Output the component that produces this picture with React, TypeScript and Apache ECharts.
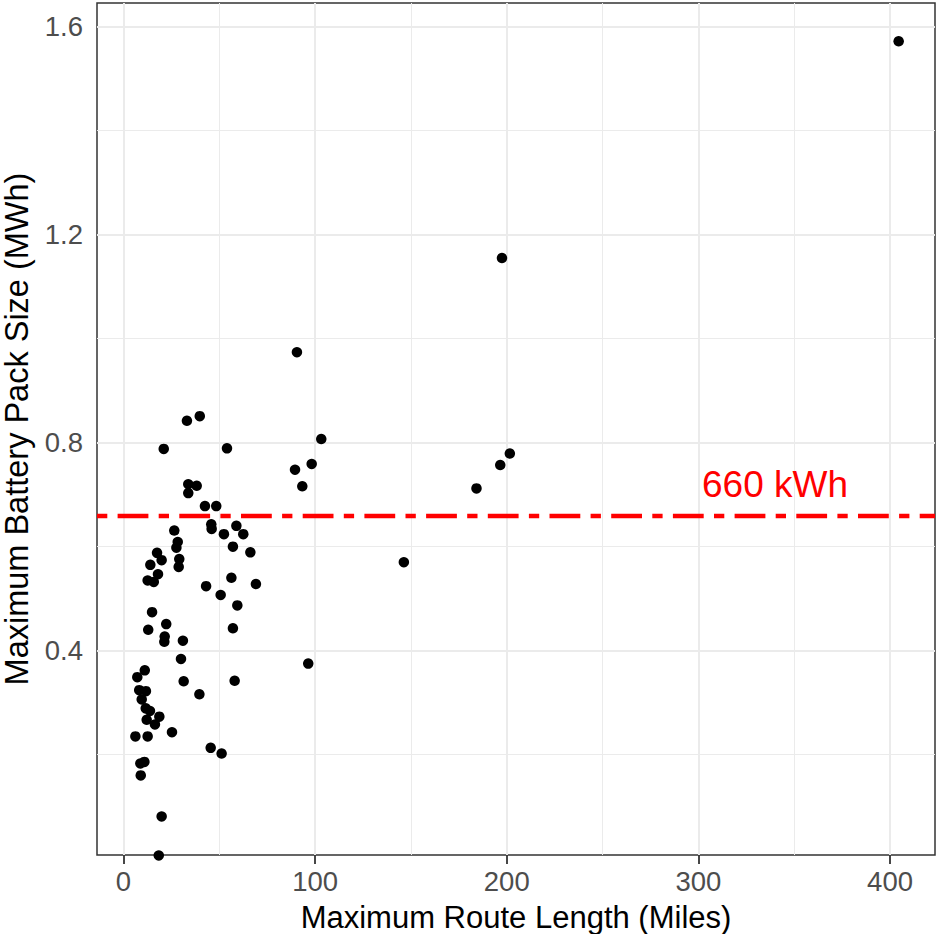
import React, { useEffect, useRef } from "react";
import * as echarts from "echarts";

// Data
const routeMiles = [
  33.1, 39.8, 21.0, 54.0, 33.8, 38.2, 33.8, 42.5, 48.4, 26.5,
  45.8, 46.0, 58.9, 52.4, 62.5, 28.3, 27.6, 57.1, 66.2, 17.5,
  19.9, 29.1, 14.0, 28.8, 18.0, 12.6, 15.8, 56.3, 43.1, 69.1,
  50.7, 59.4, 14.9, 22.3, 12.9, 57.1, 21.5, 21.3, 31.0, 30.0,
  11.1, 7.2, 31.4, 58.0, 39.6, 8.2, 11.7, 9.5, 11.6, 13.8,
  18.7, 12.1, 16.4, 6.2, 12.6, 25.3, 45.5, 51.2, 10.9, 8.8,
  9.0, 19.9, 18.4, 103.2, 89.5, 98.2, 93.3, 96.4, 146.3, 184.2,
  196.6, 201.6, 404.5, 90.5, 197.5,
];
const packMWh = [
  0.842, 0.851, 0.788, 0.789, 0.72, 0.717, 0.703, 0.678, 0.678, 0.631,
  0.643, 0.634, 0.64, 0.624, 0.624, 0.609, 0.598, 0.6, 0.589, 0.588,
  0.574, 0.576, 0.565, 0.561, 0.547, 0.535, 0.532, 0.54, 0.524, 0.528,
  0.507, 0.487, 0.474, 0.451, 0.44, 0.443, 0.427, 0.417, 0.419, 0.384,
  0.362, 0.349, 0.341, 0.342, 0.316, 0.324, 0.322, 0.306, 0.289, 0.284,
  0.273, 0.267, 0.258, 0.235, 0.235, 0.243, 0.213, 0.202, 0.186, 0.183,
  0.16, 0.081, 0.006, 0.807, 0.748, 0.759, 0.716, 0.375, 0.57, 0.712,
  0.757, 0.779, 1.572, 0.974, 1.155,
];

const xTicks = [0, 100, 200, 300, 400];
const xMinor = [50, 150, 250, 350];
const yTicks = [0.4, 0.8, 1.2, 1.6];
const yMinor = [0.2, 0.6, 1.0, 1.4];
const xRange = [-13.83, 423.47];
const yRange = [0.0069, 1.6456];

const thresholdMWh = 0.66;
const thresholdLabel = "660 kWh";
const thresholdLabelAt = [340, 0.72];

const xTitle = "Maximum Route Length (Miles)";
const yTitle = "Maximum Battery Pack Size (MWh)";

const FONT = "'Liberation Sans', Arial, Helvetica, sans-serif";

export default function App() {
  const ref = useRef<HTMLDivElement>(null);

  useEffect(() => {
    document.body.style.margin = "0";
    if (!ref.current) return;
    const chart = echarts.init(ref.current, null, { renderer: "svg" });

    const gridLines = [
      ...xTicks.map((v) => ({ xAxis: v, lineStyle: { width: 2 } })),
      ...xMinor.map((v) => ({ xAxis: v, lineStyle: { width: 1 } })),
      ...yTicks.map((v) => ({ yAxis: v, lineStyle: { width: 2 } })),
      ...yMinor.map((v) => ({ yAxis: v, lineStyle: { width: 1 } })),
    ];

    const points = routeMiles.map((x, i) => [x, packMWh[i]]);

    chart.setOption({
      animation: false,
      backgroundColor: "#ffffff",
      grid: {
        left: 97,
        right: 3,
        top: 3,
        bottom: 79,
        containLabel: false,
        outerBoundsMode: "none",
        show: true,
        backgroundColor: "#ffffff",
        borderColor: "#333333",
        borderWidth: 1.5,
      },
      xAxis: {
        type: "value",
        min: xRange[0],
        max: xRange[1],
        splitLine: { show: false },
        axisLine: { show: false },
        axisTick: {
          show: true,
          customValues: xTicks,
          length: 9,
          lineStyle: { color: "#333333", width: 1.8 },
        },
        axisLabel: {
          customValues: xTicks,
          margin: 12,
          color: "#4D4D4D",
          fontSize: 27.5,
          fontFamily: FONT,
          formatter: (v: number) => String(Math.round(v)),
        },
        name: xTitle,
        nameLocation: "middle",
        nameGap: 47,
        nameTextStyle: { color: "#000000", fontSize: 31, fontFamily: FONT },
      },
      yAxis: {
        type: "value",
        min: yRange[0],
        max: yRange[1],
        splitLine: { show: false },
        axisLine: { show: false },
        axisTick: {
          show: true,
          customValues: yTicks,
          length: 9,
          lineStyle: { color: "#333333", width: 1.8 },
        },
        axisLabel: {
          customValues: yTicks,
          margin: 14,
          color: "#4D4D4D",
          fontSize: 27.5,
          fontFamily: FONT,
          formatter: (v: number) => v.toFixed(1),
        },
        name: yTitle,
        nameLocation: "middle",
        nameGap: 63,
        nameTextStyle: { color: "#000000", fontSize: 32.5, fontFamily: FONT },
      },
      series: [
        {
          type: "scatter",
          data: [],
          silent: true,
          markLine: {
            z: 1,
            silent: true,
            symbol: ["none", "none"],
            label: { show: false },
            lineStyle: { color: "#EBEBEB", type: "solid", opacity: 1 },
            emphasis: { disabled: true },
            data: gridLines,
          },
        },
        {
          type: "scatter",
          z: 3,
          clip: false,
          symbol: "circle",
          symbolSize: 10.5,
          itemStyle: { color: "#000000", opacity: 1 },
          data: points,
          markLine: {
            z: 4,
            silent: true,
            symbol: ["none", "none"],
            label: { show: false },
            emphasis: { disabled: true },
            lineStyle: {
              color: "#FF0000",
              opacity: 1,
              width: 4.3,
              type: [10.3, 10.3, 30.8, 10.3],
              cap: "butt",
            },
            data: [{ yAxis: thresholdMWh }],
          },
        },
        {
          type: "scatter",
          z: 5,
          silent: true,
          symbolSize: 1,
          itemStyle: { color: "rgba(0,0,0,0)", opacity: 1 },
          data: [thresholdLabelAt],
          label: {
            show: true,
            position: "inside",
            formatter: thresholdLabel,
            color: "#FF0000",
            opacity: 1,
            fontSize: 37,
            fontFamily: FONT,
          },
        },
      ],
    });

    return () => chart.dispose();
  }, []);

  return <div ref={ref} style={{ width: 938, height: 934 }} />;
}
